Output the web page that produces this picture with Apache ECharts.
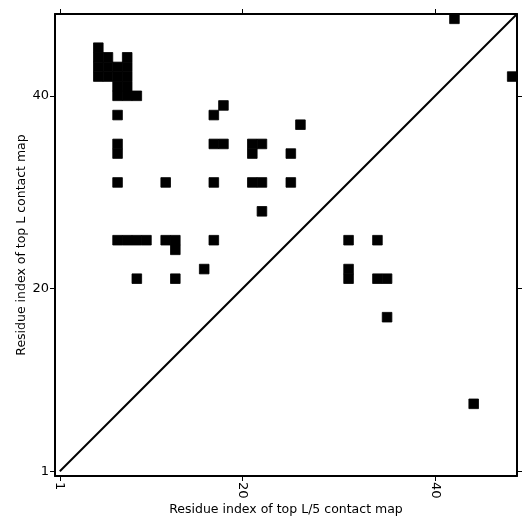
<!DOCTYPE html>
<html>
<head>
<meta charset="utf-8">
<script src="https://cdn.jsdelivr.net/npm/echarts@6/dist/echarts.min.js"></script>
<style>
    html, body { margin: 0; padding: 0; background: #fff; }
    #contact-map { width: 531px; height: 531px; }
</style>
</head>
<body>
<div id="contact-map"></div>
<script>
// residue pairs [x, y]
const topLContacts = [
    [5, 45],
    [5, 44], [6, 44], [8, 44],
    [5, 43], [6, 43], [7, 43], [8, 43],
    [5, 42], [6, 42], [7, 42], [8, 42],
    [7, 41], [8, 41],
    [7, 40], [8, 40], [9, 40],
    [18, 39],
    [7, 38], [17, 38],
    [26, 37],
    [7, 35], [17, 35], [18, 35], [21, 35], [22, 35],
    [7, 34], [21, 34], [25, 34],
    [7, 31], [12, 31], [17, 31], [21, 31], [22, 31], [25, 31],
    [22, 28],
    [7, 25], [8, 25], [9, 25], [10, 25], [12, 25], [13, 25], [17, 25],
    [13, 24],
    [16, 22],
    [9, 21], [13, 21],
    [42, 48]
];
const topL5Contacts = [
    [31, 25], [34, 25],
    [31, 22], [31, 21],
    [34, 21], [35, 21],
    [35, 17],
    [44, 8],
    [48, 42]
];
const tickValues = [1, 20, 40];
const axisMin = 0.5;
const axisMax = 48.5;
const diagonal = [[1, 1], [48.5, 48.5]];

const font = "DejaVu Sans";

function cell(params, api) {
    const c = api.coord([api.value(0), api.value(1)]);
    const s = api.size([1, 1]);
    return {
        type: "rect",
        shape: { x: c[0] - s[0] / 2, y: c[1] - s[1] / 2, width: s[0], height: s[1] },
        style: { fill: "#000", stroke: "#000", lineWidth: 0.8 }
    };
}

function axis(opts) {
    return Object.assign({
        type: "value",
        min: axisMin,
        max: axisMax,
        splitLine: { show: false },
        axisLine: { show: true, onZero: false, lineStyle: { color: "#000", width: 2 } },
        axisTick: { show: true, length: 5, customValues: tickValues, lineStyle: { color: "#000", width: 1 } },
        axisLabel: { show: false, customValues: tickValues }
    }, opts);
}

const chart = echarts.init(document.getElementById("contact-map"));
chart.setOption({
    animation: false,
    grid: { left: 55, top: 14, width: 462, height: 462 },
    xAxis: [
        axis({
            position: "bottom",
            name: "Residue index of top L/5 contact map",
            nameLocation: "middle",
            nameGap: 27,
            nameMoveOverlap: false,
            nameTextStyle: { fontFamily: font, fontSize: 12.5, color: "#000" },
            axisLabel: { show: true, customValues: tickValues, rotate: -90, margin: 6, fontFamily: font, fontSize: 13, color: "#000" }
        }),
        axis({ position: "top" })
    ],
    yAxis: [
        axis({
            position: "left",
            name: "Residue index of top L contact map",
            nameLocation: "middle",
            nameGap: 27,
            nameMoveOverlap: false,
            nameTextStyle: { fontFamily: font, fontSize: 12.5, color: "#000" },
            axisLabel: { show: true, customValues: tickValues, margin: 6, fontFamily: font, fontSize: 13, color: "#000" }
        }),
        axis({ position: "right" })
    ],
    series: [
        {
            type: "custom",
            renderItem: cell,
            data: topLContacts,
            clip: true
        },
        {
            type: "custom",
            renderItem: cell,
            data: topL5Contacts,
            clip: true
        },
        {
            type: "line",
            data: diagonal,
            symbol: "none",
            lineStyle: { color: "#000", width: 2 },
            clip: true
        }
    ]
});
</script>
</body>
</html>
